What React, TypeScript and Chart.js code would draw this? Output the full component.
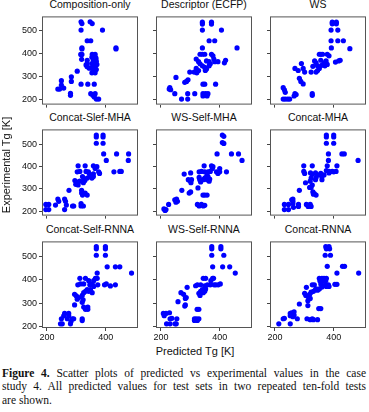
import React, { useEffect, useRef } from "react";
import { Chart, registerables } from "chart.js";

Chart.register(...registerables);

// ---------- data: [predicted Tg, experimental Tg] ----------
const panelTitles = [
  "Composition-only",
  "Descriptor (ECFP)",
  "WS",
  "Concat-Slef-MHA",
  "WS-Self-MHA",
  "Concat-MHA",
  "Concat-Self-RNNA",
  "WS-Self-RNNA",
  "Concat-RNNA",
];

const xTickValues = [200, 400];
const yTickValues = [200, 300, 400, 500];

const compositionOnly: [number, number][] = [
  [316, 537], [319, 529], [347, 537], [354, 529], [316, 501], [389, 501], [337, 455], [349, 455],
  [435, 424], [435, 420], [319, 424], [319, 420], [319, 396], [315, 396], [354, 396], [364, 396],
  [367, 380], [318, 375], [353, 384], [364, 384], [358, 371], [368, 367], [353, 357], [364, 357],
  [370, 353], [356, 344], [364, 341], [353, 337], [368, 331], [358, 321], [364, 317], [353, 317],
  [337, 371], [337, 357], [333, 351], [337, 343], [344, 337], [303, 324], [283, 300], [283, 280],
  [249, 283], [249, 264], [257, 251], [243, 247], [237, 247], [280, 229], [280, 220], [316, 268],
  [339, 268], [361, 268], [349, 227], [356, 220], [364, 227], [361, 213], [368, 204], [376, 204],
];

const descriptorEcfp: [number, number][] = [
  [341, 535], [341, 527], [341, 501], [372, 535], [372, 527], [406, 501], [364, 455], [383, 455],
  [459, 424], [341, 424], [333, 397], [341, 397], [349, 397], [372, 397], [377, 390], [320, 376],
  [328, 365], [333, 356], [355, 368], [364, 365], [383, 365], [394, 365], [380, 376], [420, 371],
  [416, 360], [341, 347], [349, 340], [355, 333], [351, 327], [364, 347], [368, 356], [320, 336],
  [328, 327], [322, 317], [313, 320], [298, 320], [251, 297], [287, 280], [281, 276], [292, 287],
  [230, 253], [233, 244], [228, 247], [247, 227], [270, 204], [291, 204], [291, 227], [315, 227],
  [343, 268], [349, 268], [386, 268], [343, 227], [352, 227], [360, 227], [343, 217], [357, 217],
];

const wsOnly: [number, number][] = [
  [395, 535], [409, 535], [395, 528], [409, 528], [391, 501], [414, 501], [391, 455], [414, 455],
  [433, 455], [392, 424], [455, 421], [351, 397], [356, 397], [362, 397], [378, 397], [384, 390],
  [335, 368], [340, 360], [356, 371], [367, 360], [374, 368], [290, 357], [329, 345], [345, 347],
  [351, 336], [359, 349], [370, 347], [378, 353], [406, 363], [417, 368], [422, 371], [268, 336],
  [279, 327], [296, 336], [301, 320], [323, 320], [340, 320], [345, 327], [283, 293], [288, 280],
  [296, 269], [268, 227], [265, 217], [272, 223], [228, 253], [232, 244], [235, 233], [228, 204],
  [235, 204], [243, 204], [250, 204], [327, 227], [327, 220],
];

const concatSlefMha: [number, number][] = [
  [368, 541], [368, 532], [391, 541], [391, 532], [368, 504], [391, 504], [393, 456], [437, 456],
  [478, 456], [402, 427], [477, 427], [306, 403], [330, 403], [358, 403], [370, 399], [364, 391],
  [303, 376], [312, 378], [333, 378], [341, 376], [344, 367], [358, 367], [379, 369], [376, 376],
  [428, 376], [448, 378], [453, 378], [295, 337], [303, 330], [312, 334], [298, 320], [306, 317],
  [321, 355], [326, 343], [329, 337], [337, 348], [347, 355], [324, 327], [358, 355], [353, 348],
  [275, 293], [318, 293], [318, 281], [321, 272], [330, 281], [337, 272], [324, 223], [316, 234],
  [316, 223], [237, 254], [240, 244], [260, 254], [263, 244], [196, 230], [206, 230], [196, 207],
  [206, 207], [260, 207], [229, 227], [266, 227], [287, 223], [291, 223],
];

const wsSelfMha: [number, number][] = [
  [409, 541], [414, 535], [409, 507], [414, 503], [391, 456], [440, 456], [464, 456], [476, 427],
  [347, 403], [372, 403], [377, 399], [375, 391], [400, 391], [279, 366], [301, 371], [330, 376],
  [338, 378], [349, 376], [357, 369], [360, 376], [368, 378], [389, 376], [394, 369], [400, 376],
  [423, 376], [293, 341], [298, 337], [304, 341], [302, 327], [330, 351], [332, 341], [335, 331],
  [344, 341], [349, 348], [353, 351], [360, 355], [357, 341], [366, 344], [364, 334], [326, 304],
  [271, 293], [296, 281], [301, 286], [343, 272], [349, 272], [357, 272], [247, 251], [253, 254],
  [251, 240], [256, 244], [226, 230], [210, 210], [217, 207], [214, 203], [324, 230], [330, 223],
  [338, 230], [344, 223], [349, 226],
];

const concatMha: [number, number][] = [
  [375, 541], [375, 532], [400, 541], [400, 532], [375, 504], [400, 504], [382, 456], [428, 456],
  [436, 456], [483, 427], [382, 427], [298, 403], [327, 403], [298, 378], [301, 369], [378, 403],
  [411, 403], [375, 382], [384, 378], [384, 371], [395, 378], [400, 376], [408, 378], [321, 371],
  [327, 365], [338, 371], [340, 351], [338, 341], [351, 362], [356, 369], [360, 355], [367, 362],
  [360, 341], [323, 348], [320, 334], [327, 317], [323, 306], [304, 327], [318, 306], [283, 293],
  [329, 286], [334, 279], [340, 272], [331, 276], [261, 254], [261, 244], [261, 234], [257, 251],
  [232, 230], [246, 230], [232, 207], [246, 207], [263, 217], [280, 230], [280, 221], [307, 230],
  [320, 230], [323, 221], [313, 221],
];

const concatSelfRnna: [number, number][] = [
  [368, 544], [368, 535], [399, 544], [399, 535], [368, 507], [399, 507], [405, 457], [433, 457],
  [448, 457], [371, 430], [488, 430], [312, 407], [331, 407], [365, 407], [371, 407], [342, 397],
  [359, 397], [305, 379], [314, 383], [325, 383], [346, 379], [354, 383], [373, 379], [359, 372],
  [396, 379], [402, 383], [416, 374], [433, 379], [294, 338], [300, 331], [308, 324], [303, 317],
  [320, 333], [325, 345], [331, 351], [337, 358], [342, 351], [348, 358], [354, 345], [323, 314],
  [320, 303], [294, 292], [325, 283], [331, 273], [339, 283], [339, 273], [260, 255], [257, 245],
  [274, 255], [274, 245], [269, 232], [286, 232], [291, 232], [282, 221], [249, 232], [246, 210],
  [252, 210], [280, 210], [320, 232], [320, 224],
];

const wsSelfRnna: [number, number][] = [
  [373, 544], [373, 535], [404, 544], [404, 535], [373, 507], [414, 507], [376, 457], [410, 457],
  [434, 457], [453, 430], [344, 407], [352, 407], [376, 407], [379, 407], [370, 397], [289, 368],
  [318, 375], [324, 379], [335, 379], [349, 375], [358, 379], [368, 379], [381, 379], [387, 379],
  [395, 379], [402, 383], [268, 345], [277, 338], [283, 320], [286, 324], [329, 342], [335, 351],
  [341, 358], [349, 351], [344, 345], [352, 361], [333, 333], [258, 306], [283, 292], [281, 287],
  [323, 273], [329, 273], [208, 255], [217, 255], [229, 258], [211, 245], [231, 232], [237, 234],
  [254, 232], [219, 210], [231, 210], [248, 210], [252, 210], [314, 232], [321, 232], [329, 232],
  [314, 225], [324, 225],
];

const concatRnna: [number, number][] = [
  [373, 544], [375, 535], [384, 544], [386, 535], [371, 507], [389, 507], [378, 459], [430, 459],
  [437, 459], [411, 430], [485, 430], [351, 407], [360, 407], [367, 407], [375, 407], [353, 397],
  [364, 397], [373, 397], [307, 368], [327, 379], [334, 379], [340, 361], [356, 383], [371, 379],
  [375, 372], [382, 379], [384, 372], [404, 381], [411, 381], [301, 342], [305, 333], [312, 328],
  [318, 338], [323, 347], [331, 351], [338, 358], [345, 356], [351, 361], [360, 369], [312, 310],
  [320, 320], [283, 296], [312, 289], [349, 276], [356, 276], [252, 255], [257, 258], [265, 262],
  [252, 245], [265, 248], [261, 241], [228, 232], [232, 234], [213, 210], [252, 210], [276, 232],
  [309, 232], [320, 228], [331, 228], [345, 228], [327, 232],
];

const panelData = [
  compositionOnly, descriptorEcfp, wsOnly,
  concatSlefMha, wsSelfMha, concatMha,
  concatSelfRnna, wsSelfRnna, concatRnna,
];

// ---------- layout ----------
const COL_LEFT = [42, 156, 270];
const ROW_TOP = [11, 124, 236];
const PANEL_W = 96;
const ROW_H = [95, 93, 91];
const X_MIN = 183;
const X_MAX = 510;
const Y_RANGE: [number, number][] = [[180, 560], [180, 566], [192, 567]];

const SANS = "'Liberation Sans', Arial, sans-serif";
const SERIF = "'Liberation Serif', 'Times New Roman', serif";

const framePlugin = {
  id: "panelFrame",
  beforeDatasetsDraw(chart: any) {
    const { ctx, chartArea: a } = chart;
    ctx.save();
    ctx.strokeStyle = "#555555";
    ctx.lineWidth = 1;
    ctx.strokeRect(a.left + 0.5, a.top + 0.5, a.right - a.left - 1, a.bottom - a.top - 1);
    ctx.restore();
  },
};

function Panel({ idx }: { idx: number }) {
  const ref = useRef<HTMLCanvasElement>(null);
  const col = idx % 3;
  const row = Math.floor(idx / 3);
  const padL = col === 0 ? 42 : 8;
  const padR = 3;
  const padT = 2;
  const padB = row === 2 ? 16 : 5;
  const w = PANEL_W + 1 + padL + padR;
  const h = ROW_H[row] + 1 + padT + padB;

  useEffect(() => {
    if (!ref.current) return;
    const chart = new Chart(ref.current, {
      type: "scatter",
      data: {
        datasets: [
          {
            data: panelData[idx].map(([x, y]) => ({ x, y })),
            backgroundColor: "#0000ff",
            borderWidth: 0,
            pointRadius: 2.6,
          },
        ],
      },
      options: {
        animation: false,
        responsive: false,
        maintainAspectRatio: false,
        events: [],
        layout: { padding: { left: 0, top: padT, right: padR, bottom: 0 } },
        plugins: { legend: { display: false }, tooltip: { enabled: false }, title: { display: false } },
        scales: {
          x: {
            type: "linear",
            min: X_MIN,
            max: X_MAX,
            afterBuildTicks: (s: any) => {
              s.ticks = xTickValues.map((v) => ({ value: v }));
            },
            afterFit: (s: any) => {
              s.height = padB;
            },
            ticks: {
              color: row === 2 ? "#111111" : "rgba(0,0,0,0)",
              font: { family: SANS, size: 9 },
              padding: 1,
              maxRotation: 0,
              autoSkip: false,
            },
            grid: { drawOnChartArea: false, drawTicks: true, tickLength: 3, color: "#444444" },
            border: { display: false },
          },
          y: {
            type: "linear",
            min: Y_RANGE[row][0],
            max: Y_RANGE[row][1],
            afterBuildTicks: (s: any) => {
              s.ticks = yTickValues.map((v) => ({ value: v }));
            },
            afterFit: (s: any) => {
              s.width = padL;
            },
            ticks: {
              color: col === 0 ? "#111111" : "rgba(0,0,0,0)",
              font: { family: SANS, size: 9 },
              padding: 2,
              autoSkip: false,
            },
            grid: { drawOnChartArea: false, drawTicks: true, tickLength: 3, color: "#444444" },
            border: { display: false },
          },
        },
      },
      plugins: [framePlugin],
    });
    return () => chart.destroy();
  }, [idx]);

  return (
    <canvas
      ref={ref}
      width={w}
      height={h}
      style={{
        position: "absolute",
        left: COL_LEFT[col] - padL,
        top: ROW_TOP[row] - padT,
        width: w,
        height: h,
      }}
    />
  );
}

const captionLines = [
  "Scatter plots of predicted vs experimental values in the case",
  "study 4. All predicted values for test sets in two repeated ten-fold tests",
  "are shown.",
];

export default function App() {
  return (
    <div
      style={{
        position: "absolute",
        left: 0,
        top: 0,
        width: 369,
        height: 412,
        overflow: "hidden",
        background: "#ffffff",
      }}
    >
      {panelTitles.map((t, i) => {
        const col = i % 3;
        const row = Math.floor(i / 3);
        return (
          <div
            key={"t" + i}
            style={{
              position: "absolute",
              left: COL_LEFT[col] - 10,
              width: PANEL_W + 20,
              top: ROW_TOP[row] - 13,
              height: 12,
              lineHeight: "12px",
              fontFamily: SANS,
              fontSize: 10.5,
              color: "#111111",
              textAlign: "center",
              whiteSpace: "nowrap",
            }}
          >
            {t}
          </div>
        );
      })}
      {panelData.map((_, i) => (
        <Panel key={"p" + i} idx={i} />
      ))}
      <div
        style={{
          position: "absolute",
          left: 6 - 80,
          top: 165 - 7,
          width: 160,
          height: 14,
          lineHeight: "14px",
          fontFamily: SANS,
          fontSize: 11,
          color: "#111111",
          textAlign: "center",
          whiteSpace: "nowrap",
          transform: "rotate(-90deg)",
          transformOrigin: "50% 50%",
        }}
      >
        Experimental Tg [K]
      </div>
      <div
        style={{
          position: "absolute",
          left: 195 - 80,
          top: 345,
          width: 160,
          height: 13,
          lineHeight: "13px",
          fontFamily: SANS,
          fontSize: 11,
          color: "#111111",
          textAlign: "center",
          whiteSpace: "nowrap",
        }}
      >
        Predicted Tg [K]
      </div>
      <div
        style={{
          position: "absolute",
          left: 2,
          top: 367,
          width: 364,
          fontFamily: SERIF,
          fontSize: 11.5,
          lineHeight: "13.3px",
          color: "#111111",
        }}
      >
        <div style={{ textAlign: "justify", textAlignLast: "justify", whiteSpace: "nowrap" as any }}>
          <b>Figure 4.</b> {captionLines[0]}
        </div>
        <div style={{ textAlign: "justify", textAlignLast: "justify" }}>{captionLines[1]}</div>
        <div>{captionLines[2]}</div>
      </div>
    </div>
  );
}
